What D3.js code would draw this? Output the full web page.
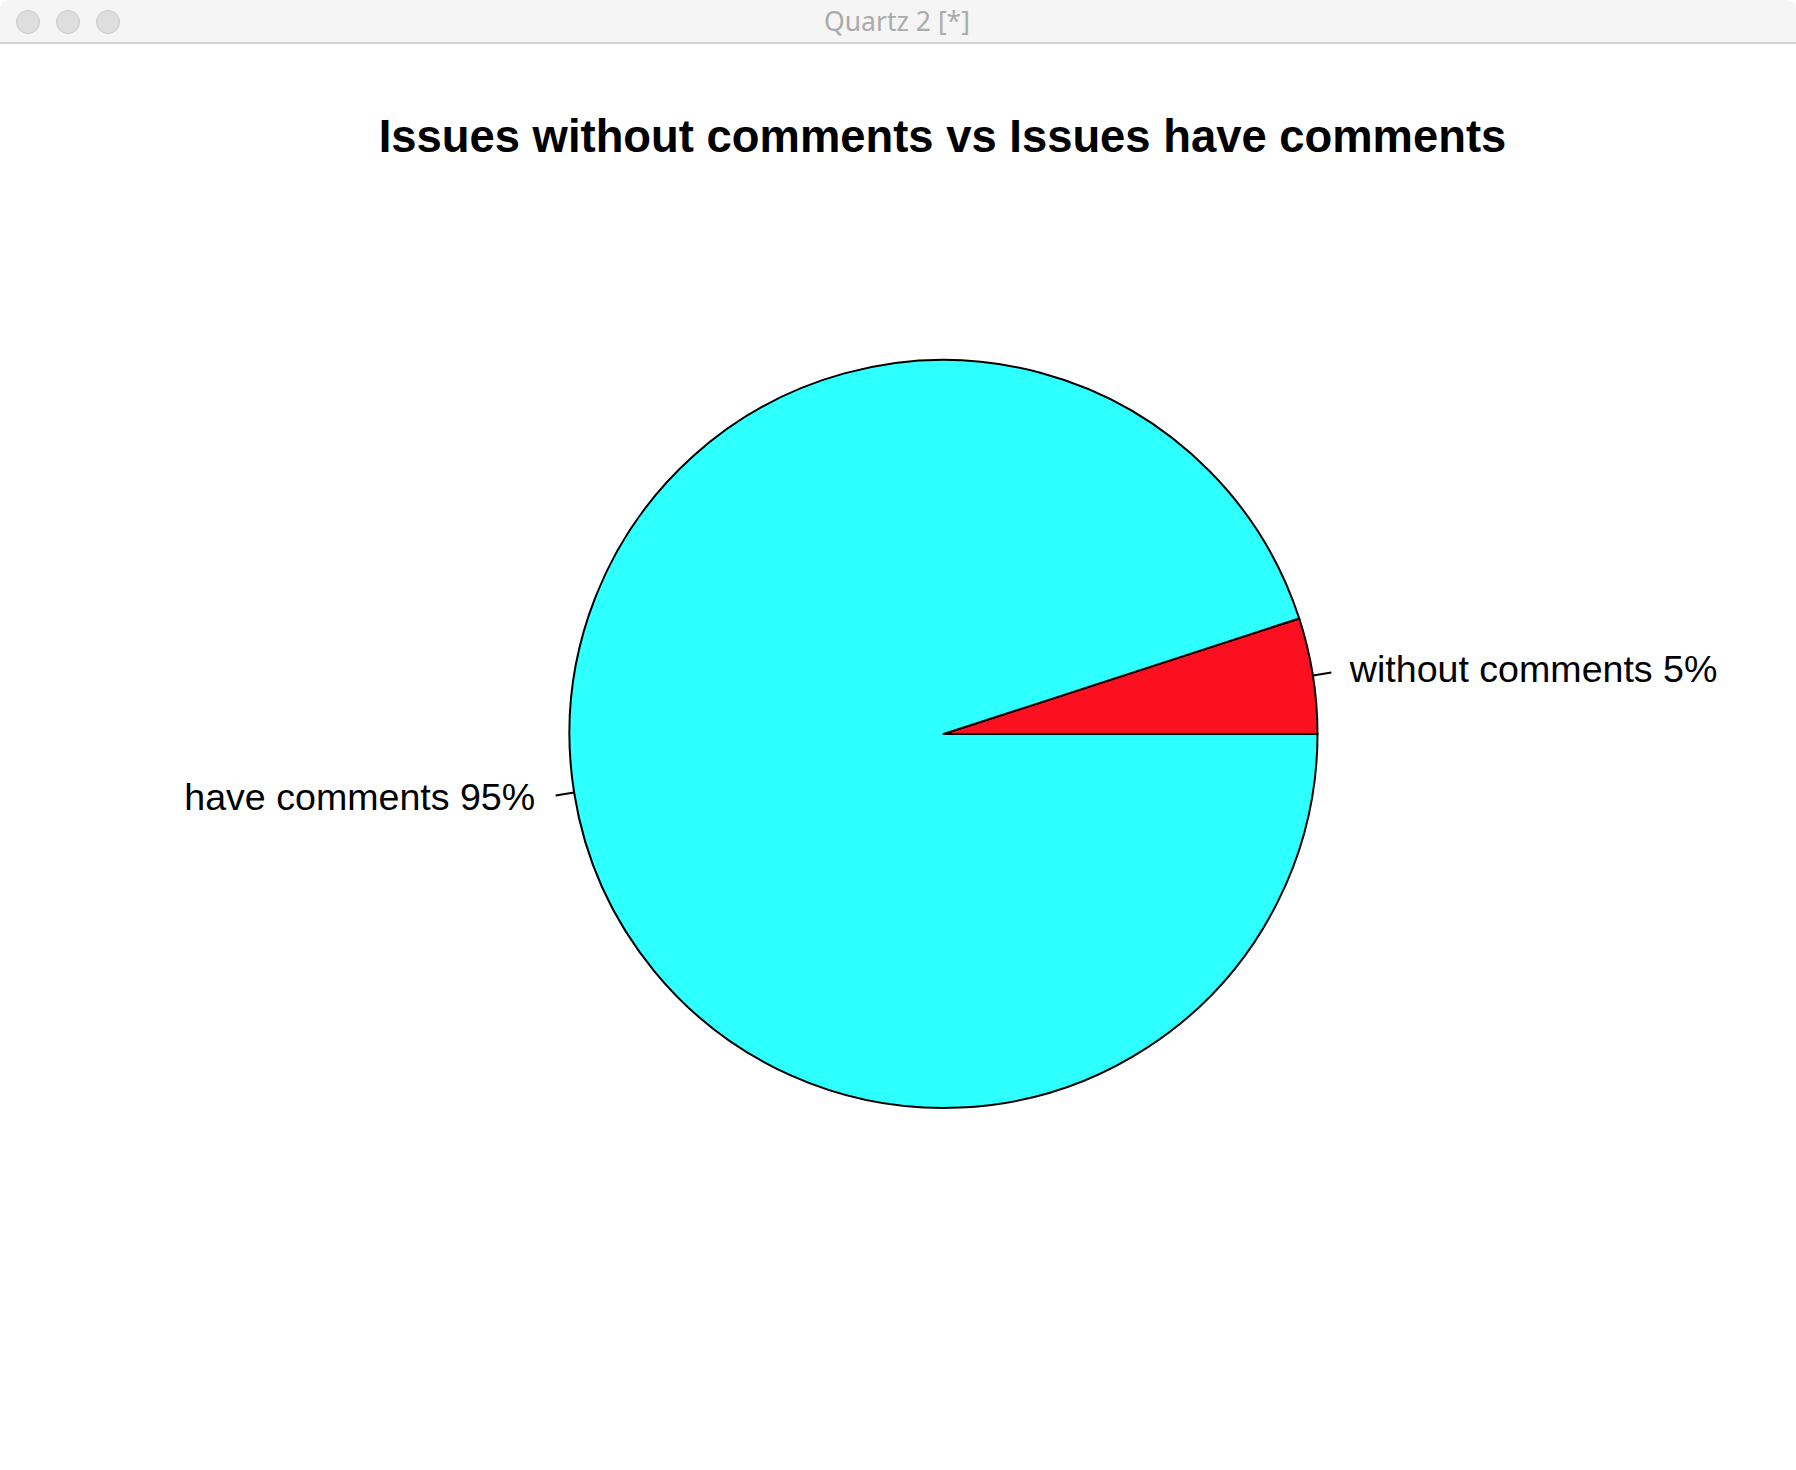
<!DOCTYPE html>
<html><head><meta charset="utf-8">
<script src="https://cdn.jsdelivr.net/npm/d3@7"></script>
<style>html,body{margin:0;padding:0;background:#fff;overflow:hidden}</style>
</head><body>
<script>
const categories = ["without comments", "have comments"];
const values = [5, 95];
const sliceColors = ["#fc0f1e", "#2effff"];
const chartTitle = "Issues without comments vs Issues have comments";

const W = 1796, H = 1470;
const svg = d3.select("body").append("svg").attr("width", W).attr("height", H);
svg.append("rect").attr("width", W).attr("height", H).attr("fill", "#fff");

// window title bar
const bar = svg.append("g");
bar.append("path").attr("d", `M0,43 L0,10 Q0,0 10,0 L${W-10},0 Q${W},0 ${W},10 L${W},43 Z`).attr("fill", "#f5f5f5");
bar.append("rect").attr("x", 0).attr("y", 42).attr("width", W).attr("height", 2).attr("fill", "#d2d2d2");
[28, 68, 108].forEach(cx => bar.append("circle").attr("cx", cx).attr("cy", 22).attr("r", 11.5)
  .attr("fill", "#dedede").attr("stroke", "#cbcbcb").attr("stroke-width", 1));
bar.append("text").attr("x", 897).attr("y", 31).attr("text-anchor", "middle")
  .attr("font-family", "'Noto Sans', 'Liberation Sans', sans-serif").attr("font-size", 26.5)
  .attr("fill", "#ababab").text("Quartz 2 [*]");

// title
svg.append("text").attr("x", 942.5).attr("y", 152).attr("text-anchor", "middle")
  .attr("font-family", "'Liberation Sans', Arial, sans-serif").attr("font-weight", "bold")
  .attr("font-size", 45.4).attr("fill", "#000").text(chartTitle);

const cx = 943.5, cy = 734, r = 374;
const total = d3.sum(values);
const pie = d3.pie().sort(null).value(d => d)
  .startAngle(Math.PI / 2).endAngle(Math.PI / 2 - 2 * Math.PI);
const arcs = pie(values);
const arc = d3.arc().innerRadius(0).outerRadius(r);
const g = svg.append("g").attr("transform", `translate(${cx},${cy})`);
g.selectAll("path.slice").data(arcs).enter().append("path")
  .attr("class", "slice").attr("d", arc)
  .attr("fill", (d, i) => sliceColors[i]).attr("stroke", "#000").attr("stroke-width", 2)
  .attr("stroke-linejoin", "round");

arcs.forEach((d, i) => {
  const a = (d.startAngle + d.endAngle) / 2;
  const sx = Math.sin(a), sy = -Math.cos(a);
  g.append("line").attr("x1", sx * r).attr("y1", sy * r)
    .attr("x2", sx * r * 1.05).attr("y2", sy * r * 1.05)
    .attr("stroke", "#000").attr("stroke-width", 2);
  const pct = Math.round(values[i] / total * 100);
  g.append("text").attr("x", sx * r * 1.1 + (sx > 0 ? 0 : -2)).attr("y", sy * r * 1.1 + 12)
    .attr("text-anchor", sx > 0 ? "start" : "end")
    .attr("font-family", "'Liberation Sans', Arial, sans-serif").attr("font-size", 37.6)
    .attr("fill", "#000").text(categories[i] + " " + pct + "%");
});
</script>
</body></html>
